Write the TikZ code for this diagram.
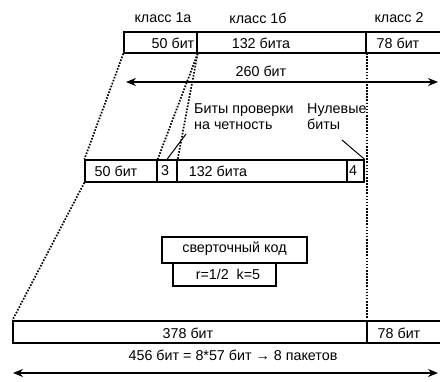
\documentclass[tikz,border=0pt]{standalone}
\usepackage{fontspec}
\setmainfont{Liberation Sans}
\usetikzlibrary{arrows.meta}
\begin{document}
\begin{tikzpicture}[x=1pt,y=-1pt,
  cell/.style={draw, line width=1.3pt, inner sep=0pt},
  txt/.style={inner sep=0pt, font=\fontsize{14.3}{16}\selectfont},
  dots/.style={line width=1.7pt, dash pattern=on 1.6pt off 1.5pt},
  leader/.style={line width=1pt},
  dim/.style={line width=1.2pt, {Stealth[length=10pt,width=8pt]}-{Stealth[length=10pt,width=8pt]}}]
\useasboundingbox (0,0) rectangle (440,382);
% top bar
\node[cell, minimum width=73pt, minimum height=21pt] (c1a) at (160.5,42.5) {};
\node[cell, minimum width=169pt, minimum height=21pt] (c1b) at (281.5,42.5) {};
\node[cell, minimum width=84pt, minimum height=21pt] (c2) at (408,42.5) {};
\node[txt] (k1a) at (163,18) {класс 1а};
\node[txt] (k1b) at (258,18) {класс 1б};
\node[txt] (k2) at (399,18) {класс 2};
\node[txt] (t50) at (173,43) {50 бит};
\node[txt] (t132) at (261,43) {132 бита};
\node[txt] (t78) at (398,43) {78 бит};
\coordinate (a1) at (126,82);
\coordinate (a2) at (438,82);
\draw[dim] (a1) -- (a2);
\node[txt] (t260) at (261,71) {260 бит};
% middle bar
\node[cell, minimum width=72pt, minimum height=22pt] (m50) at (121,171) {};
\node[cell, minimum width=20pt, minimum height=22pt] (m3) at (167,171) {};
\node[cell, minimum width=170pt, minimum height=22pt] (m132) at (262,171) {};
\node[cell, minimum width=17pt, minimum height=22pt] (m4) at (355.5,171) {};
\node[txt] (u50) at (116,171) {50 бит};
\node[txt] (u3) at (165,171) {3};
\node[txt] (u132) at (218,171) {132 бита};
\node[txt] (u4) at (353,171) {4};
\node[txt, align=left, anchor=west] (par) at (194,117) {Биты проверки\\на четность};
\node[txt, align=left, anchor=west] (nul) at (307,117) {Нулевые\\биты};
\coordinate (p1) at (186,134);
\coordinate (n1) at (342,140);
\draw[leader] (p1) -- (m3.north);
\draw[leader] (n1) -- (m4.north east);
% dotted projections
\draw[dots] (c1a.south west) -- (m50.north west);
\draw[dots] (c1a.south east) -- (m50.north east);
\draw[dots] (c1a.south east) -- (m3.north east);
\coordinate (v1) at (367,53);
\coordinate (v2) at (367,321);
\draw[dots] (v1) -- (v2);
% convolutional code box
\node[cell, minimum width=145pt, minimum height=26pt] (conv) at (234.5,250) {};
\node[txt] (convt) at (234.5,249) {сверточный код};
\node[cell, minimum width=103pt, minimum height=23pt] (rk) at (224.5,274.5) {};
\node[txt] (rkt) at (228,274) {r=1/2\ \ k=5};
% bottom bar
\node[cell, minimum width=354pt, minimum height=22pt] (b378) at (190,332) {};
\node[cell, minimum width=83pt, minimum height=22pt] (b78) at (408.5,332) {};
\draw[dots] (m50.south west) -- (b378.north west);
\node[txt] (w378) at (188,333) {378 бит};
\node[txt] (w78) at (399,333) {78 бит};
\coordinate (d1) at (13,373);
\coordinate (d2) at (438,373);
\draw[dim] (d1) -- (d2);
\node[txt] (w456) at (233,355) {456 бит = 8*57 бит → 8 пакетов};
\end{tikzpicture}
\end{document}
